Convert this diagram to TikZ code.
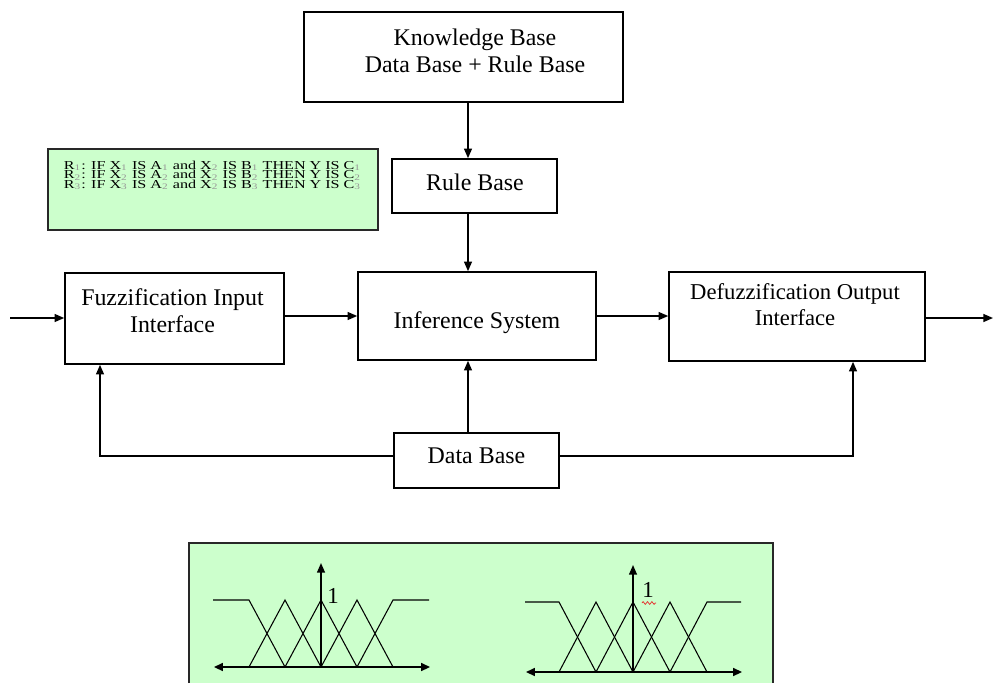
\documentclass[tikz,border=0pt]{standalone}
\usepackage{fontspec}
\setmainfont{Liberation Serif}
\usepackage{xcolor}
\usepackage{tikz}
\usetikzlibrary{
  arrows.meta,
  positioning,
  decorations.pathmorphing
}
\definecolor{panelgreen}{RGB}{204, 255, 204}
\definecolor{edgegrey}{RGB}{40, 40, 40}
\definecolor{subgrey}{RGB}{150, 150, 150}
\definecolor{spellred}{RGB}{230, 40, 40}
\newcommand{\rs}[1]{\textsubscript{\color{subgrey}#1}}

\begin{document}
\begin{tikzpicture}[x=0.02cm, y=-0.02cm, line width=0.9pt,
    blockbox/.style={draw, fill=white, inner sep=0pt},
    blocktext/.style={align=center, inner sep=0pt, font=\fontsize{13.6}{15.4}\selectfont},
    ruleline/.style={anchor=base west, inner sep=0pt, font=\fontsize{6.9}{8}\selectfont},
    flow/.style={-{Triangle[length=5.5pt, width=4.5pt]}},
    axisarrow/.style={{Triangle[length=5pt, width=4.5pt]}-{Triangle[length=5pt, width=4.5pt]}},
    curve/.style={line width=0.6pt}]
  \useasboundingbox (0,0) rectangle (993,683);
  % ---------- TOP: knowledge base and rules ----------
  \node[blockbox, minimum width=6.38cm, minimum height=1.8cm] (kb) at (463.5, 57) {};
  \node[blocktext] (kbtext) at (475, 51) {Knowledge Base\\Data Base + Rule Base};
  \node[blockbox, minimum width=3.3cm, minimum height=1.08cm] (rb) at (474.5, 186) {};
  \node[blocktext] (rbtext) at (475, 182) {Rule Base};
  \node[draw=edgegrey, fill=panelgreen, minimum width=6.6cm, minimum height=1.62cm,
    anchor=north west, inner sep=0pt] (rules) at (47, 148) {};
  \foreach \n/\x/\a/\b [count=\i] in {1/1/1/1, 2/2/2/2, 3/3/2/3}
    \node[ruleline] (rule\i) at (63, 159.5+9.5*\i)
      {\scalebox{1.33}[1]{R\rs{\n}: IF X\rs{\x} IS A\rs{\a} and X\rs{2} IS B\rs{\b} THEN Y IS C\rs{\n}}};
  % ---------- MIDDLE: main chain ----------
  \node[blockbox, minimum width=4.38cm, minimum height=1.82cm] (fi) at (174.5, 318.5) {};
  \node[blocktext] (fitext) at (172.5, 310.5) {Fuzzification Input\\Interface};
  \node[blockbox, minimum width=4.76cm, minimum height=1.76cm] (is) at (477, 316) {};
  \node[blocktext] (istext) at (477, 323) {Inference System};
  \node[blockbox, minimum width=5.12cm, minimum height=1.78cm] (di) at (797, 316.5) {};
  \node[blocktext, anchor=north, font=\fontsize{12.9}{14.8}\selectfont] (ditext)
    at (795, 283) {Defuzzification Output\\Interface};
  \node[blockbox, minimum width=3.3cm, minimum height=1.1cm] (db) at (476.5, 460.5) {};
  \node[blocktext] (dbtext) at (476.5, 456) {Data Base};
  \coordinate (spine) at (468, 0);
  \coordinate (inp) at (10, 318);
  \coordinate (outp) at (993, 318);
  \coordinate (lcorner) at (100, 456);
  \coordinate (rcorner) at (853, 456);
  \draw[flow] (kb.south -| spine) -- (rb.north -| spine);
  \draw[flow] (rb.south -| spine) -- (is.north -| spine);
  \draw[flow] (db.north -| spine) -- (is.south -| spine);
  \draw[flow] (inp) -- (inp -| fi.west);
  \draw[flow] ([yshift=0.05cm]fi.east) -- ([yshift=0.05cm]fi.east -| is.west);
  \draw[flow] (is.east) -- (is.east -| di.west);
  \draw[flow] (outp -| di.east) -- (outp);
  \draw[flow] (lcorner -| db.west) -- (lcorner) -- (lcorner |- fi.south);
  \draw[flow] (rcorner -| db.east) -- (rcorner) -- (rcorner |- di.south);
  % ---------- BOTTOM: membership functions ----------
  \fill[panelgreen] (189, 543) rectangle (773, 683);
  \draw[edgegrey] (189, 683) -- (189, 543) -- (773, 543) -- (773, 683);
  \foreach \cx/\by/\tp/\st in {321/667/600/36, 633/672/602/37} {
    \draw[axisarrow] (\cx-107, \by) -- (\cx+109, \by);
    \draw[flow] (\cx, \by) -- (\cx, \tp-37);
    \draw[curve] (\cx-108, \tp) -- (\cx-2*\st, \tp) -- (\cx-\st, \by);
    \draw[curve] (\cx+\st, \by) -- (\cx+2*\st, \tp) -- (\cx+108, \tp);
    \foreach \k in {-1, 0, 1}
      \draw[curve] (\cx+\k*\st-\st, \by) -- (\cx+\k*\st, \tp) -- (\cx+\k*\st+\st, \by);
  }
  \node[font=\fontsize{13}{15}\selectfont, inner sep=0pt] (one1) at (333, 596) {1};
  \node[font=\fontsize{13}{15}\selectfont, inner sep=0pt] (one2) at (648, 590) {1};
  \draw[spellred, thin, decorate, decoration={zigzag, segment length=2.5pt, amplitude=0.8pt}]
    (642, 603) -- (656, 603);
\end{tikzpicture}
\end{document}
